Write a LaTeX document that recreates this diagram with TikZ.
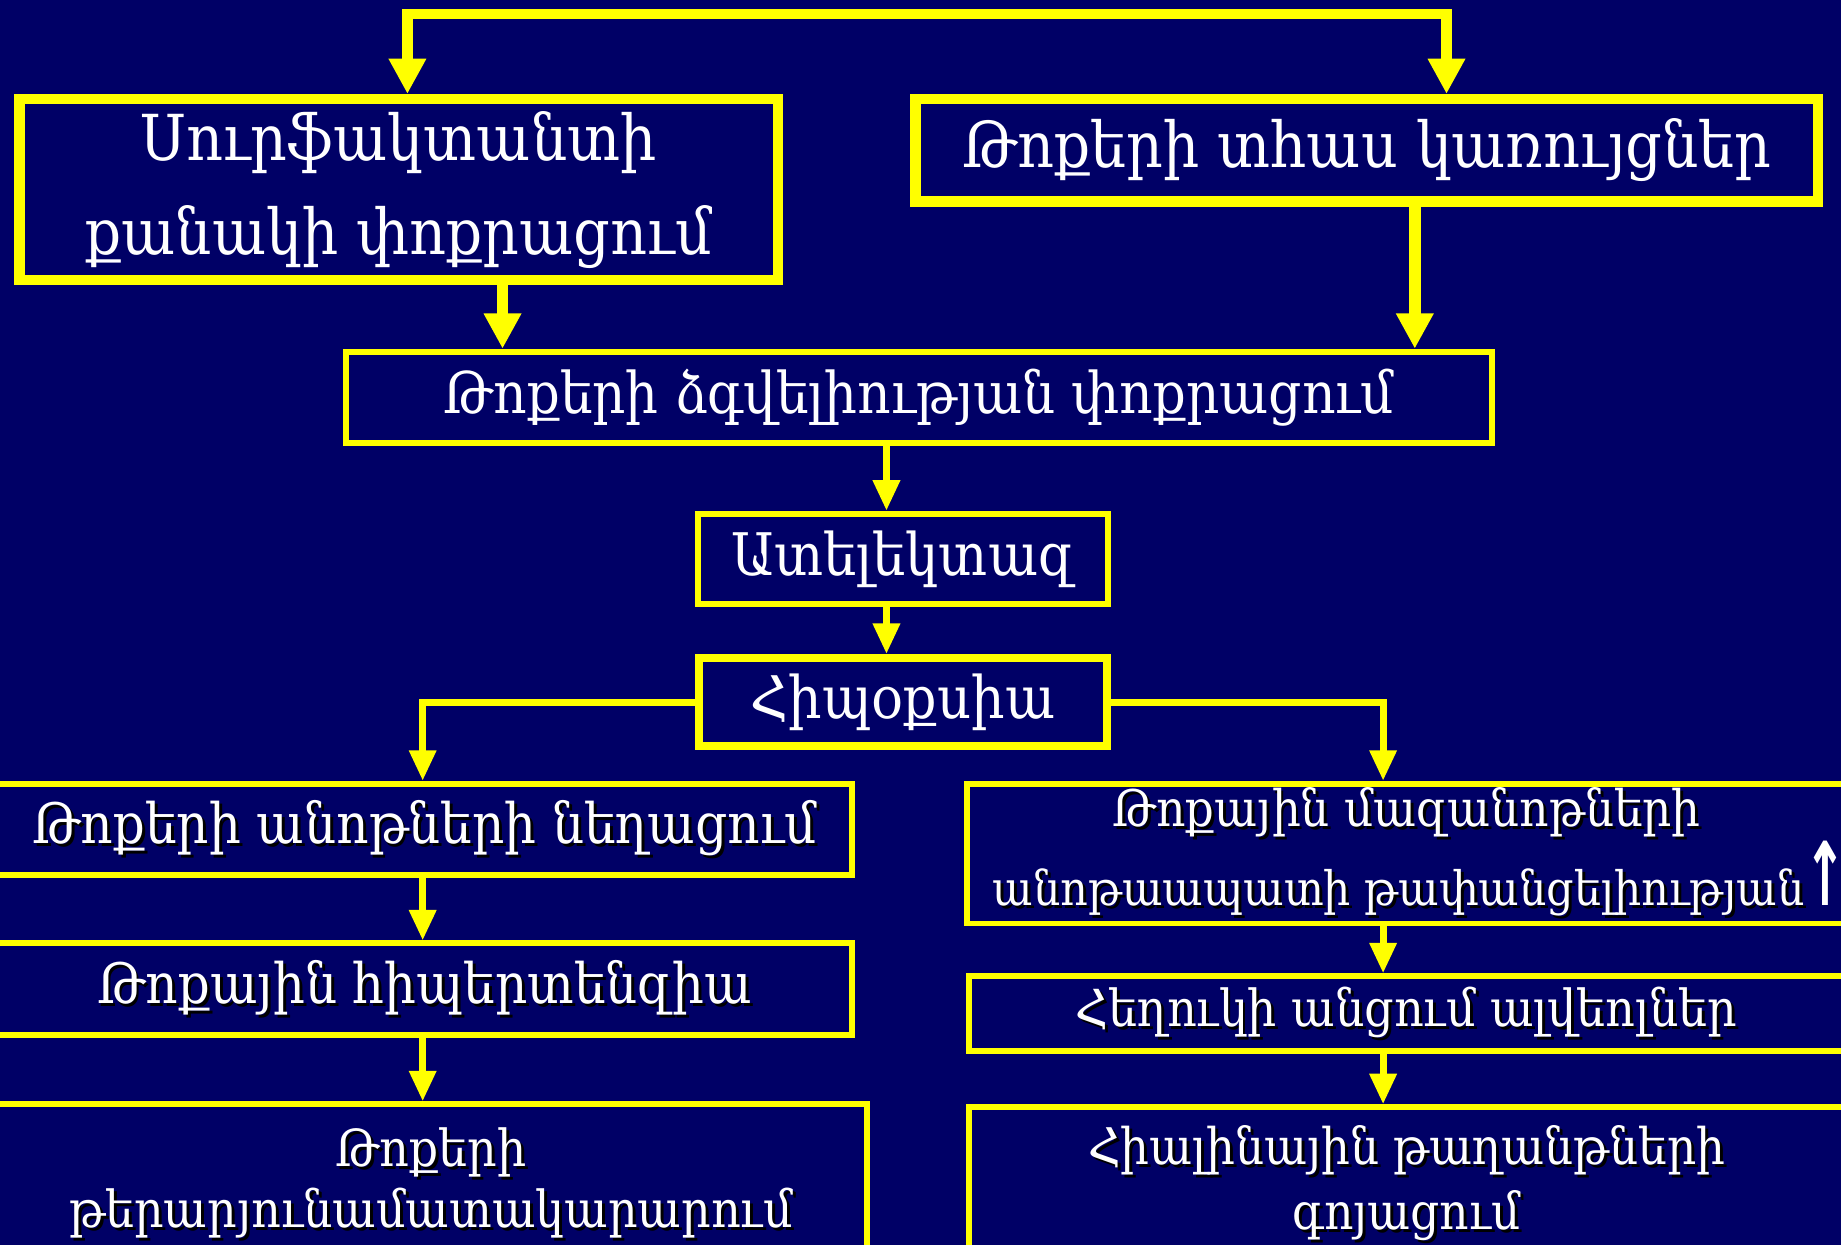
\documentclass[tikz,border=0pt]{standalone}
\usepackage{fontspec}
\setmainfont[FakeStretch=0.9]{DejaVu Serif}
\newfontfamily\arrowfont{DejaVu Sans}
\usetikzlibrary{arrows.meta,positioning}

\definecolor{slide}{RGB}{0,0,102}
\definecolor{frame}{RGB}{255,255,0}

% white text with a dark drop shadow
\newcommand\shtxt[1]{\rlap{\hspace{2.5pt}\raisebox{-2.5pt}{\color{black}#1}}#1}
\newcommand\fs[2]{\fontsize{#1}{#2}\selectfont}

\begin{document}
\begin{tikzpicture}[x=1pt,y=-1pt,
    box/.style={draw=frame, line width=5pt, fill=slide, text=white,
        align=center, inner sep=0pt, font=\fs{47.5}{56}},
    bigbox/.style={box, line width=9pt, font=\fs{54}{80}},
    link/.style={draw=frame, line width=6pt, -{Triangle[length=26pt,width=22pt]}},
    biglink/.style={draw=frame, line width=10pt, -{Triangle[length=30pt,width=30pt]}}]

    \fill[slide] (0,0) rectangle (1568,1060);
    \useasboundingbox (0,0) rectangle (1568,1060);
    \clip (0,0) rectangle (1568,1060);

    % top row
    \node[bigbox, minimum width=646pt, minimum height=154pt] (surf) at (339.5,161.5)
        {Սուրֆակտանտի\\քանակի փոքրացում};
    \node[bigbox, minimum width=769pt, minimum height=87pt] (immat) at (1164,128)
        {Թոքերի տհաս կառույցներ};

    % middle chain
    \node[box, minimum width=976pt, minimum height=78pt, font=\fs{49}{56}] (compl) at (782.5,338.5)
        {Թոքերի ձգվելիության փոքրացում};
    \node[box, minimum width=349pt, minimum height=77pt, font=\fs{50}{56}] (atel) at (769,476)
        {Ատելեկտազ};
    \node[box, line width=7pt, minimum width=347pt, minimum height=75pt, font=\fs{50}{56}] (hypox) at (769,598)
        {Հիպօքսիա};

    % left branch
    \node[box, minimum width=728pt, minimum height=78pt] (narrow) at (361.5,706.5)
        {\shtxt{Թոքերի անոթների նեղացում}};
    \node[box, minimum width=728pt, minimum height=78pt] (hypert) at (361.5,842.5)
        {\shtxt{Թոքային հիպերտենզիա}};
    \node[box, minimum width=743pt, minimum height=137pt, font=\fs{43.5}{52}] (perf) at (367,1009)
        {\shtxt{Թոքերի}\\\shtxt{թերարյունամատակարարում}};

    % right branch
    \node[box, minimum width=745pt, minimum height=119pt, font=\fs{43}{57}] (perm) at (1198,727)
        {\shtxt{Թոքային մազանոթների}\\
         \fs{40.5}{57}\hspace*{22pt}\shtxt{անոթաապատի թափանցելիության}%
         {\arrowfont\bfseries\scalebox{1.05}[1.85]{↑}}};
    \node[box, minimum width=745pt, minimum height=64pt, font=\fs{43.5}{56}] (fluid) at (1198,863.5)
        {\shtxt{Հեղուկի անցում ալվեոլներ}};
    \node[box, minimum width=745pt, minimum height=132pt, font=\fs{43}{55}] (hyal) at (1198,1009)
        {\shtxt{Հիալինային թաղանթների}\\\shtxt{գոյացում}};

    % connector columns
    \coordinate (tl) at (347,12);
    \coordinate (tr) at (1232,12);
    \coordinate (colA) at (428,0);
    \coordinate (colB) at (1205,0);
    \coordinate (mid) at (755,0);
    \coordinate (colL) at (360,0);
    \coordinate (colR) at (1178,0);

    \draw[biglink, line width=9pt, {Triangle[length=30pt,width=30pt]}-{Triangle[length=30pt,width=30pt]}]
        (surf.north -| tl) |- (tr) -- (immat.north -| tr);
    \draw[biglink] (surf.south -| colA) -- (compl.north -| colA);
    \draw[biglink] (immat.south -| colB) -- (compl.north -| colB);

    \draw[link] (compl.south -| mid) -- (atel.north -| mid);
    \draw[link] (atel.south -| mid) -- (hypox.north -| mid);

    \draw[link] (hypox.west) -| (narrow.north -| colL);
    \draw[link] (hypox.east) -| (perm.north -| colR);

    \draw[link] (narrow.south -| colL) -- (hypert.north -| colL);
    \draw[link] (hypert.south -| colL) -- (perf.north -| colL);
    \draw[link] (perm.south -| colR) -- (fluid.north -| colR);
    \draw[link] (fluid.south -| colR) -- (hyal.north -| colR);
\end{tikzpicture}
\end{document}
